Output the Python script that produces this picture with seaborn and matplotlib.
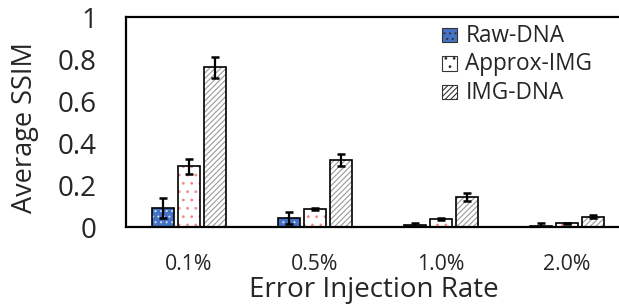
import matplotlib
matplotlib.use("Agg")
import matplotlib.pyplot as plt
import matplotlib.patches as mpatches
import seaborn as sns
import pandas as pd
import numpy as np

categories = ["0.1%", "0.5%", "1.0%", "2.0%"]
series = ["Raw-DNA", "Approx-IMG", "IMG-DNA"]
raw_dna = [0.090, 0.043, 0.008, 0.006]
raw_dna_err = [0.047, 0.028, 0.010, 0.015]
approx_img = [0.290, 0.086, 0.038, 0.017]
approx_img_err = [0.036, 0.005, 0.004, 0.004]
img_dna = [0.760, 0.320, 0.143, 0.049]
img_dna_err = [0.050, 0.030, 0.018, 0.008]
yticks = [0, 0.2, 0.4, 0.6, 0.8, 1.0]
ytick_labels = ["0", "0.2", "0.4", "0.6", "0.8", "1"]

values = {"Raw-DNA": raw_dna, "Approx-IMG": approx_img, "IMG-DNA": img_dna}
errors = {"Raw-DNA": raw_dna_err, "Approx-IMG": approx_img_err, "IMG-DNA": img_dna_err}

rows = []
for s in series:
    for c, v in zip(categories, values[s]):
        rows.append({"rate": c, "series": s, "ssim": v})
df = pd.DataFrame(rows)

styles = {
    "Raw-DNA": dict(face="#4472C4", hatch="...", hcolor="#C8D6F2"),
    "Approx-IMG": dict(face="#FFFFFF", hatch="..", hcolor="#F28A8A"),
    "IMG-DNA": dict(face="#FFFFFF", hatch="//////", hcolor="#9A9A9A"),
}

sns.set_theme(style="white")
plt.rcParams["font.family"] = ["Open Sans", "DejaVu Sans"]
plt.rcParams["hatch.linewidth"] = 0.8

W, H = 619, 308
fig = plt.figure(figsize=(W / 100, H / 100), dpi=100)
ax = fig.add_axes([126 / W, (H - 227) / H, 504 / W, 210 / H])

sns.barplot(data=df, x="rate", y="ssim", hue="series", order=categories,
            hue_order=series, ax=ax, width=0.62, dodge=True, legend=False,
            gap=0.18)

for s, cont in zip(series, ax.containers):
    st = styles[s]
    for bar, v, e in zip(cont.patches, values[s], errors[s]):
        bar.set_facecolor(st["face"])
        bar.set_hatch(st["hatch"])
        bar.set_edgecolor(st["hcolor"])
        bar.set_linewidth(0)
        outline = mpatches.Rectangle(bar.get_xy(), bar.get_width(), bar.get_height(),
                                     fill=False, edgecolor="black", linewidth=1.2, zorder=3)
        ax.add_patch(outline)
        cx = bar.get_x() + bar.get_width() / 2
        ax.errorbar(cx, v, yerr=e, color="black", lw=1.6, capsize=3,
                    capthick=1.8, zorder=4)

ax.set_xlim(-0.5, 3.5)
ax.set_ylim(0, 1)
ax.set_yticks(yticks)
ax.set_yticklabels(ytick_labels)
ax.tick_params(axis="y", length=0, pad=21)
ax.tick_params(axis="x", length=0, pad=19.5)
ax.set_xlabel("Error Injection Rate")
ax.set_ylabel("Average SSIM")

for side in ["left", "bottom", "top"]:
    ax.spines[side].set_visible(True)
    ax.spines[side].set_color("black")
    ax.spines[side].set_linewidth(1.6)
ax.spines["right"].set_visible(False)

handles = []
for s in series:
    st = styles[s]
    handles.append(mpatches.Patch(facecolor=st["face"], hatch=st["hatch"],
                                  edgecolor="#333333", linewidth=0.8, label=s))


def fit_size(texts, target, use_height=False, start=14):
    size = start
    for _ in range(3):
        for t in texts:
            t.set_fontsize(size)
        fig.canvas.draw()
        bb = texts[0].get_window_extent()
        cur = bb.height if use_height else bb.width
        size = size * target / cur
    for t in texts:
        t.set_fontsize(size)
    return size


fig.canvas.draw()
xtl = ax.get_xticklabels()
ytl = ax.get_yticklabels()
xs = fit_size([xtl[0]], 48)
ax.tick_params(axis="x", labelsize=xs)
ys = fit_size([ytl[4]], 39)
ax.tick_params(axis="y", labelsize=ys)
fit_size([ax.yaxis.label], 170, use_height=True)
fit_size([ax.xaxis.label], 250)

ax.yaxis.label.set_va("center")
ax.yaxis.set_label_coords((25 - 126) / 504, (227 - 128) / 210)
ax.xaxis.label.set_va("center")
ax.xaxis.set_label_coords((374 - 126) / 504, (227 - 290) / 210)

leg = ax.legend(handles=handles, loc="upper left",
                bbox_to_anchor=((442 - 126) / 504, (227 - 24) / 210),
                frameon=False, fontsize=14, handlelength=0.75, handleheight=0.75,
                handletextpad=0.45, labelspacing=0.22, borderaxespad=0.0,
                borderpad=0.0)
fig.canvas.draw()
ltexts = leg.get_texts()
lsize = fit_size([ltexts[1]], 127)
for t in ltexts:
    t.set_fontsize(lsize)

fig.savefig("out.png", dpi=100)
